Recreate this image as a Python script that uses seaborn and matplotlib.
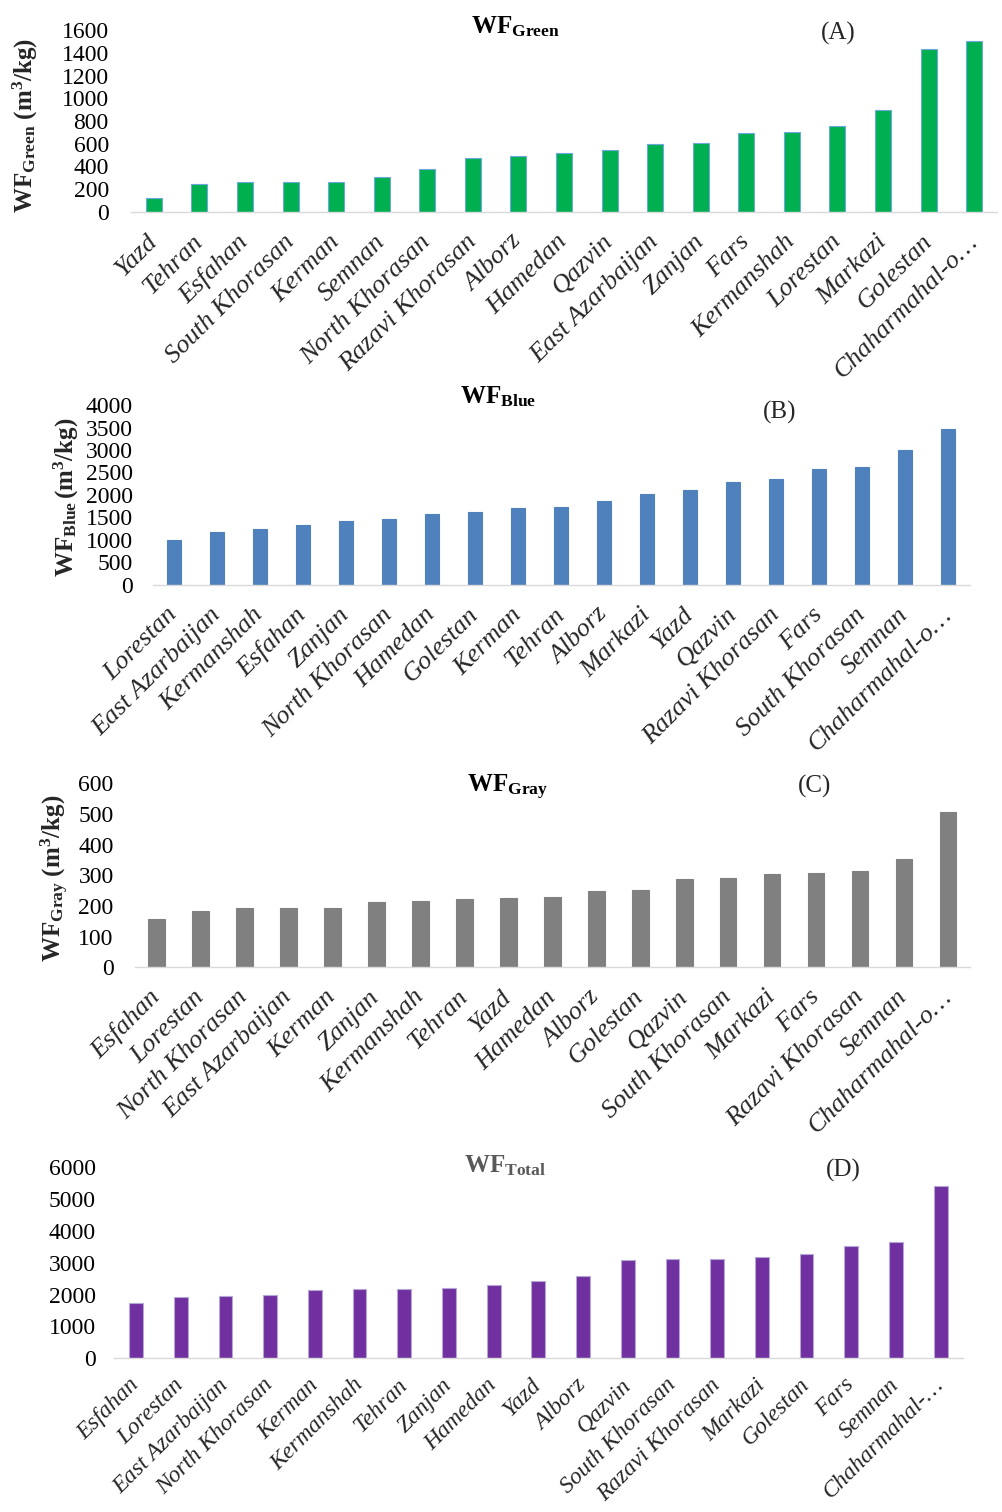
import numpy as np
import pandas as pd
import matplotlib
matplotlib.use("Agg")
import matplotlib.pyplot as plt
import seaborn as sns

# ---------------- data ----------------
green_names = ["Yazd", "Tehran", "Esfahan", "South Khorasan", "Kerman", "Semnan",
               "North Khorasan", "Razavi Khorasan", "Alborz", "Hamedan", "Qazvin",
               "East Azarbaijan", "Zanjan", "Fars", "Kermanshah", "Lorestan",
               "Markazi", "Golestan", "Chaharmahal-o…"]
green_vals = [126, 249, 261, 261, 261, 310, 375, 475, 490, 522, 543, 595, 607,
              695, 706, 759, 894, 1431, 1507]

blue_names = ["Lorestan", "East Azarbaijan", "Kermanshah", "Esfahan", "Zanjan",
              "North Khorasan", "Hamedan", "Golestan", "Kerman", "Tehran", "Alborz",
              "Markazi", "Yazd", "Qazvin", "Razavi Khorasan", "Fars",
              "South Khorasan", "Semnan", "Chaharmahal-o…"]
blue_vals = [993, 1171, 1244, 1326, 1430, 1459, 1585, 1615, 1718, 1741, 1867,
             2022, 2104, 2281, 2355, 2570, 2615, 3007, 3474]

gray_names = ["Esfahan", "Lorestan", "North Khorasan", "East Azarbaijan", "Kerman",
              "Zanjan", "Kermanshah", "Tehran", "Yazd", "Hamedan", "Alborz",
              "Golestan", "Qazvin", "South Khorasan", "Markazi", "Fars",
              "Razavi Khorasan", "Semnan", "Chaharmahal-o…"]
gray_vals = [158, 183, 194, 194, 194, 213, 217, 222, 225, 229, 248, 252, 288,
             291, 303, 307, 314, 353, 505]

total_names = ["Esfahan", "Lorestan", "East Azarbaijan", "North Khorasan", "Kerman",
               "Kermanshah", "Tehran", "Zanjan", "Hamedan", "Yazd", "Alborz",
               "Qazvin", "South Khorasan", "Razavi Khorasan", "Markazi", "Golestan",
               "Fars", "Semnan", "Chaharmahal-…"]
total_vals = [1725, 1913, 1954, 1986, 2133, 2164, 2164, 2205, 2309, 2415, 2572,
              3074, 3115, 3115, 3178, 3262, 3513, 3648, 5395]

# ---------------- style ----------------
sns.set_theme(style="white")
plt.rcParams["font.family"] = ["Liberation Serif", "DejaVu Serif"]
plt.rcParams["mathtext.fontset"] = "custom"
plt.rcParams["mathtext.rm"] = "Liberation Serif"
plt.rcParams["mathtext.it"] = "Liberation Serif:italic"
plt.rcParams["mathtext.bf"] = "Liberation Serif:bold"

W, H = 1002, 1512
fig = plt.figure(figsize=(W / 100, H / 100), dpi=100)


def px_axes(x0, x1, y0, y1):
    # x0,x1 left/right in px; y0 = pixel row of zero line, y1 = pixel row of top
    return fig.add_axes([x0 / W, 1 - y0 / H, (x1 - x0) / W, (y0 - y1) / H])


panels = [
    dict(names=green_names, vals=green_vals, color="#00B050", edge="#6FA8DC",
         box=(131, 997, 212, 30), ymax=1600, step=200, width=0.35, ypad=16,
         xsize=19, xpad=19,
         title=r"$\mathbf{WF_{Green}}$", tpos=(515, 27), tcolor="black",
         tag="(A)", tagpos=(838, 33),
         ylabel=r"$\mathbf{WF_{Green}\ (m^{3}/kg)}$", ylpos=(25, 125)),
    dict(names=blue_names, vals=blue_vals, color="#4F81BD", edge="#4F81BD",
         box=(152.5, 969.5, 585, 405), ymax=4000, step=500, width=0.33, ypad=14,
         xsize=19, xpad=19,
         title=r"$\mathbf{WF_{Blue}}$", tpos=(498, 397), tcolor="black",
         tag="(B)", tagpos=(780, 412),
         ylabel=r"$\mathbf{WF_{Blue}\,(m^{3}/kg)}$", ylpos=(66, 497)),
    dict(names=gray_names, vals=gray_vals, color="#808080", edge="#808080",
         box=(134.5, 970, 967.3, 783.3), ymax=600, step=100, width=0.38, ypad=15,
         xsize=19, xpad=19,
         title=r"$\mathbf{WF_{Gray}}$", tpos=(508, 787), tcolor="black",
         tag="(C)", tagpos=(815, 786),
         ylabel=r"$\mathbf{WF_{Gray}\ (m^{3}/kg)}$", ylpos=(55, 878)),
    dict(names=total_names, vals=total_vals, color="#7030A0", edge="#B4A7D6",
         box=(113.7, 963, 1358.3, 1167), ymax=6000, step=1000, width=0.31, ypad=13,
         xsize=17, xpad=17,
         title=r"$\mathbf{WF_{Total}}$", tpos=(505, 1166), tcolor="#595959",
         tag="(D)", tagpos=(843, 1170),
         ylabel=None, ylpos=None),
]

for p in panels:
    ax = px_axes(*p["box"])
    df = pd.DataFrame({"region": p["names"], "value": p["vals"]})
    sns.barplot(data=df, x="region", y="value", color=p["color"], width=p["width"],
                saturation=1, edgecolor=p["edge"], linewidth=0.8, ax=ax)
    ax.set_ylim(0, p["ymax"])
    ax.set_yticks(np.arange(0, p["ymax"] + 1, p["step"]))
    ax.set_yticklabels([str(v) for v in np.arange(0, p["ymax"] + 1, p["step"])])
    ax.tick_params(axis="y", length=0, labelsize=17, pad=p["ypad"], colors="black")
    ax.tick_params(axis="x", length=0, labelsize=p["xsize"], pad=p["xpad"])
    ax.set_xticks(range(len(p["names"])))
    ax.set_xticklabels(p["names"], rotation=45, ha="right", va="center",
                       rotation_mode="anchor", style="italic")
    ax.set_xlabel("")
    ax.set_ylabel("")
    for s in ["top", "right", "left"]:
        ax.spines[s].set_visible(False)
    ax.spines["bottom"].set_color("#D9D9D9")
    ax.spines["bottom"].set_linewidth(1.0)
    ax.set_facecolor("none")
    ax.grid(False)

    fig.text(p["tpos"][0] / W, 1 - p["tpos"][1] / H, p["title"], fontsize=18,
             color=p["tcolor"], ha="center", va="center")
    fig.text(p["tagpos"][0] / W, 1 - p["tagpos"][1] / H, p["tag"], fontsize=18,
             ha="center", va="center")
    if p["ylabel"]:
        fig.text(p["ylpos"][0] / W, 1 - p["ylpos"][1] / H, p["ylabel"], fontsize=18,
                 rotation=90, ha="center", va="center")

fig.savefig("out.png", dpi=100)
